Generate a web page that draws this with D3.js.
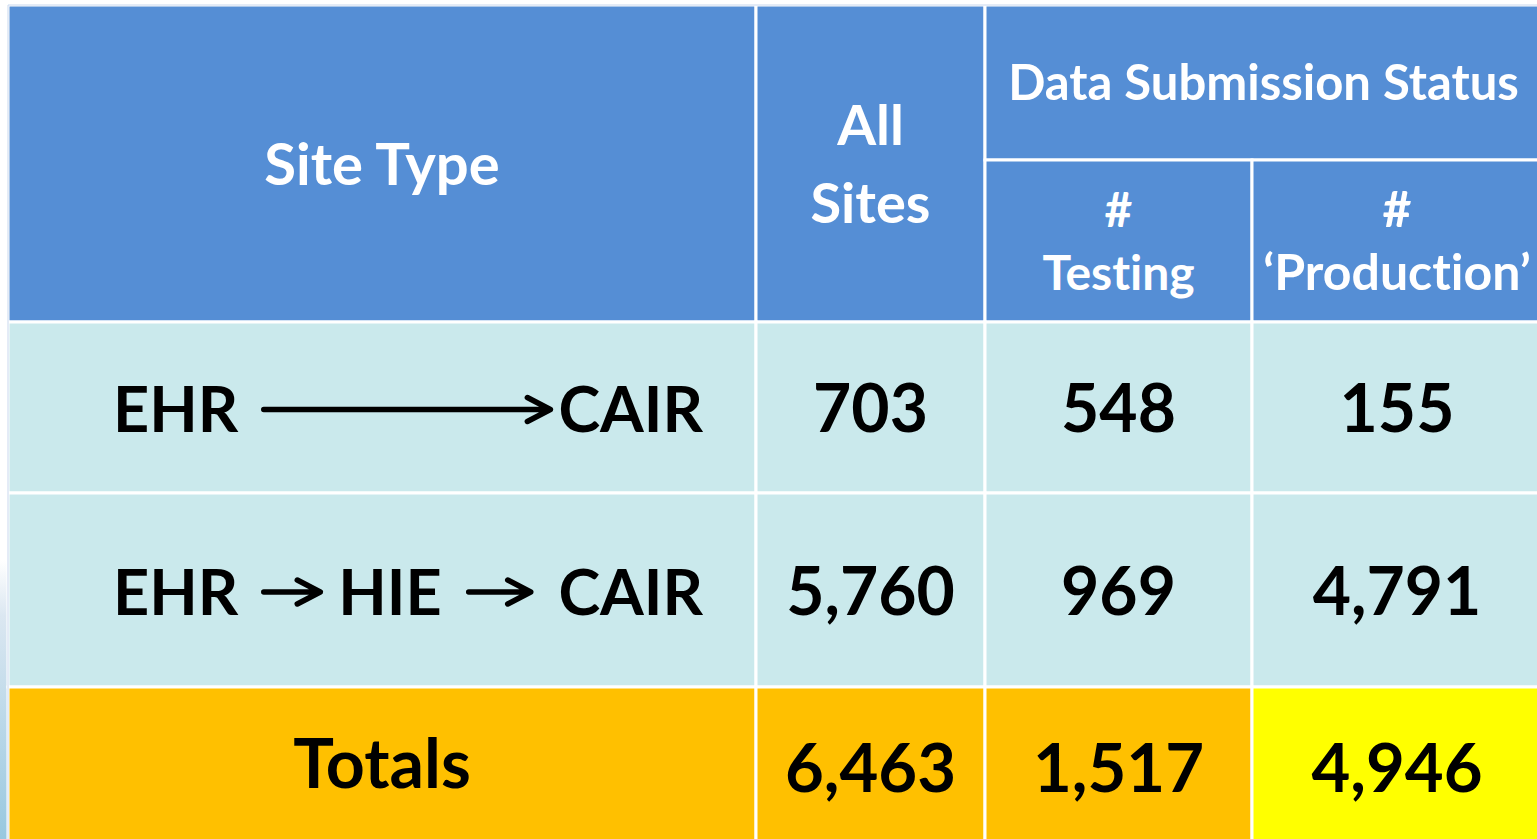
<!DOCTYPE html>
<html>
<head>
<meta charset="utf-8">
<script src="https://cdn.jsdelivr.net/npm/d3@7"></script>
<style>
  html, body { margin: 0; padding: 0; background: #fff; overflow: hidden; }
  svg { display: block; }
  text { font-family: Lato, "Open Sans", sans-serif; font-weight: 700; font-variant-ligatures: none; font-feature-settings: "liga" 0; }
</style>
</head>
<body>
<svg id="chart" width="1537" height="839"></svg>
<script>
// table data
var siteTypes = [["EHR", "CAIR"], ["EHR", "HIE", "CAIR"]];
var totalsLabel = "Totals";
var allSites = [703, 5760];
var testing = [548, 969];
var production = [155, 4791];
var totals = [6463, 1517, 4946];

var headerSiteType = ["Site Type"];
var headerAllSites = ["All", "Sites"];
var headerStatus = ["Data Submission Status"];
var headerTesting = ["#", "Testing"];
var headerProduction = ["#", "\u2018Production\u2019"];

// layout of the grid
var colEdges = [8, 756, 985, 1252, 1542];
var rowEdges = [5, 160, 322, 493, 687, 845];
var capRatio = 0.7165; // Lato cap height / em

var blue = "#558ED5", cyan = "#CAE9EC", orange = "#FFC000", yellow = "#FFFF00";

var fmt = d3.format(",");
var svg = d3.select("#chart");

// slide background peeking out on the left
var defs = svg.append("defs");
var grad = defs.append("linearGradient").attr("id", "bg").attr("x1", 0).attr("y1", 0).attr("x2", 0).attr("y2", 1);
grad.append("stop").attr("offset", "0%").attr("stop-color", "#ffffff");
grad.append("stop").attr("offset", "20%").attr("stop-color", "#dbe7f1");
grad.append("stop").attr("offset", "100%").attr("stop-color", "#98c8df");
svg.append("rect").attr("x", 0).attr("y", 560).attr("width", 8).attr("height", 279).attr("fill", "url(#bg)");

// cells: c0,c1 col span, r0,r1 row span
var cells = [
  { c0: 0, c1: 1, r0: 0, r1: 2, fill: blue, lines: headerSiteType, size: 58, color: "#fff", lh: 0, dy: 1 },
  { c0: 1, c1: 2, r0: 0, r1: 2, fill: blue, lines: headerAllSites, size: 56, color: "#fff", lh: 78, dy: 0 },
  { c0: 2, c1: 4, r0: 0, r1: 1, fill: blue, lines: headerStatus, size: 49, color: "#fff", lh: 0, dy: 0 },
  { c0: 2, c1: 3, r0: 1, r1: 2, fill: blue, lines: headerTesting, size: 48, color: "#fff", lh: 63, dy: 0 },
  { c0: 3, c1: 4, r0: 1, r1: 2, fill: blue, lines: headerProduction, size: 50, color: "#fff", lh: 63, dy: 0 }
];

var valueCols = [allSites, testing, production];
siteTypes.forEach(function(st, i) {
  cells.push({ c0: 0, c1: 1, r0: 2 + i, r1: 3 + i, fill: cyan, site: st, size: 63, color: "#000" });
  valueCols.forEach(function(col, j) {
    cells.push({ c0: 1 + j, c1: 2 + j, r0: 2 + i, r1: 3 + i, fill: cyan, lines: [fmt(col[i])], size: 66, color: "#000", lh: 0, dy: 1 });
  });
});
cells.push({ c0: 0, c1: 1, r0: 4, r1: 5, fill: orange, lines: [totalsLabel], size: 68, color: "#000", lh: 0, dy: -2 });
totals.forEach(function(v, j) {
  cells.push({ c0: 1 + j, c1: 2 + j, r0: 4, r1: 5, fill: j == 2 ? yellow : orange, lines: [fmt(v)], size: 67, color: "#000", lh: 0, dy: 2 });
});

var g = svg.append("g");

g.selectAll("rect.cell")
  .data(cells)
  .enter()
  .append("rect")
  .attr("class", "cell")
  .attr("x", function(d) { return colEdges[d.c0]; })
  .attr("y", function(d) { return rowEdges[d.r0]; })
  .attr("width", function(d) { return colEdges[d.c1] - colEdges[d.c0]; })
  .attr("height", function(d) { return rowEdges[d.r1] - rowEdges[d.r0]; })
  .attr("fill", function(d) { return d.fill; })
  .attr("stroke", "#fff")
  .attr("stroke-width", 3);

// thin outer edge like the slide table
g.append("path")
  .attr("d", "M" + colEdges[0] + "," + 839 + "V" + rowEdges[0] + "H1537")
  .attr("fill", "none")
  .attr("stroke", "#c9d8ee")
  .attr("stroke-width", 1);

// plain text cells
cells.filter(function(d) { return d.lines; }).forEach(function(d) {
  var cx = (colEdges[d.c0] + colEdges[d.c1]) / 2;
  var cy = (rowEdges[d.r0] + rowEdges[d.r1]) / 2;
  var cap = d.size * capRatio;
  var n = d.lines.length;
  d.lines.forEach(function(line, i) {
    g.append("text")
      .attr("x", cx)
      .attr("y", cy + (i - (n - 1) / 2) * d.lh + cap / 2 + d.dy)
      .attr("text-anchor", "middle")
      .attr("font-size", d.size)
      .attr("fill", d.color)
      .text(line);
  });
});

// site type cells with arrows
function arrow(x1, x2, y) {
  g.append("path")
    .attr("d", "M" + x1 + "," + y + "H" + x2 + "M" + (x2 - 23) + "," + (y - 12) + "L" + x2 + "," + y + "L" + (x2 - 23) + "," + (y + 12))
    .attr("fill", "none")
    .attr("stroke", "#000")
    .attr("stroke-width", 5.5)
    .attr("stroke-linecap", "round")
    .attr("stroke-linejoin", "round");
}

cells.filter(function(d) { return d.site; }).forEach(function(d) {
  var left = colEdges[d.c0] + 105;
  var right = colEdges[d.c1] - 53;
  var cy = (rowEdges[d.r0] + rowEdges[d.r1]) / 2;
  var cap = d.size * capRatio;
  var base = cy + cap / 2 + 2;
  var ay = base - cap * 0.5;
  var words = d.site;

  var first = g.append("text").attr("x", left).attr("y", base).attr("text-anchor", "start")
    .attr("font-size", d.size).attr("fill", d.color).text(words[0]);
  var last = g.append("text").attr("x", right).attr("y", base).attr("text-anchor", "end")
    .attr("font-size", d.size).attr("fill", d.color).text(words[words.length - 1]);
  var fb = first.node().getBBox(), lb = last.node().getBBox();

  if (words.length == 2) {
    arrow(fb.x + fb.width + 25, lb.x - 8, ay);
  } else {
    var mid = g.append("text").attr("x", left + 277).attr("y", base).attr("text-anchor", "middle")
      .attr("font-size", d.size).attr("fill", d.color).text(words[1]);
    var mb = mid.node().getBBox();
    arrow(fb.x + fb.width + 25, mb.x - 18, ay);
    arrow(mb.x + mb.width + 27, mb.x + mb.width + 89, ay);
  }
});
</script>
</body>
</html>
